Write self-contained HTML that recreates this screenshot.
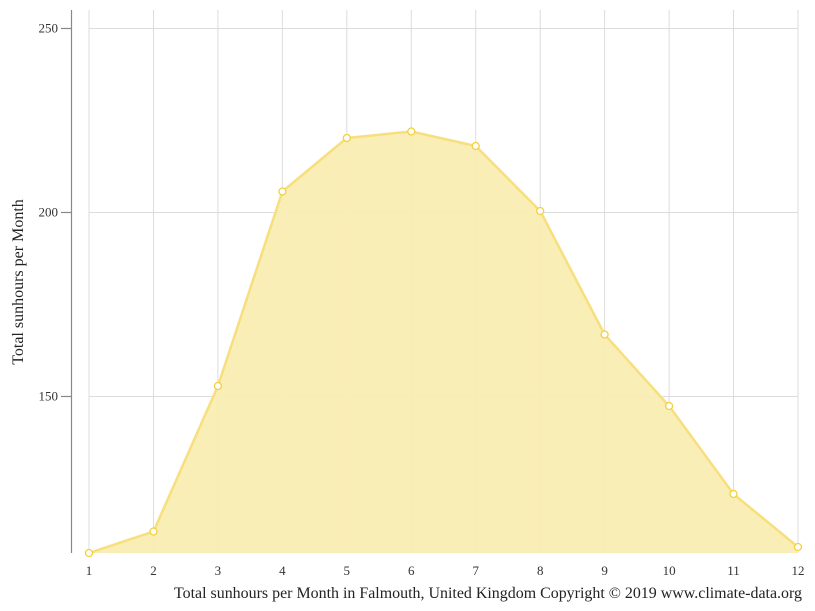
<!DOCTYPE html>
<html><head><meta charset="utf-8"><style>
html,body{margin:0;padding:0;background:#fff;}
svg{display:block;font-family:"Liberation Serif",serif;}
</style></head><body>
<svg width="815" height="611" viewBox="0 0 815 611" xmlns="http://www.w3.org/2000/svg">
<g stroke="#dcdcdc" stroke-width="1">
<line x1="89" y1="10" x2="89" y2="553"/>
<line x1="153.5" y1="10" x2="153.5" y2="553"/>
<line x1="217.9" y1="10" x2="217.9" y2="553"/>
<line x1="282.4" y1="10" x2="282.4" y2="553"/>
<line x1="346.8" y1="10" x2="346.8" y2="553"/>
<line x1="411.3" y1="10" x2="411.3" y2="553"/>
<line x1="475.7" y1="10" x2="475.7" y2="553"/>
<line x1="540.2" y1="10" x2="540.2" y2="553"/>
<line x1="604.6" y1="10" x2="604.6" y2="553"/>
<line x1="669.1" y1="10" x2="669.1" y2="553"/>
<line x1="733.5" y1="10" x2="733.5" y2="553"/>
<line x1="798" y1="10" x2="798" y2="553"/>
<line x1="89" y1="28.5" x2="798" y2="28.5"/>
<line x1="89" y1="212.5" x2="798" y2="212.5"/>
<line x1="89" y1="396.5" x2="798" y2="396.5"/>
</g>
<polygon fill="#f9edb0" fill-opacity="0.92" points="89,553 153.5,531.5 217.9,386 282.4,191.5 346.8,138 411.3,131.5 475.7,146 540.2,211 604.6,334.5 669.1,406 733.5,494 798,547 798,553"/>
<polyline fill="none" stroke="#f7df7e" stroke-width="2.5" stroke-linejoin="round" points="89,553 153.5,531.5 217.9,386 282.4,191.5 346.8,138 411.3,131.5 475.7,146 540.2,211 604.6,334.5 669.1,406 733.5,494 798,547"/>
<g fill="#fff" stroke="#f5cf3c" stroke-width="1.3">
<circle cx="89" cy="553" r="3.5"/>
<circle cx="153.5" cy="531.5" r="3.5"/>
<circle cx="217.9" cy="386" r="3.5"/>
<circle cx="282.4" cy="191.5" r="3.5"/>
<circle cx="346.8" cy="138" r="3.5"/>
<circle cx="411.3" cy="131.5" r="3.5"/>
<circle cx="475.7" cy="146" r="3.5"/>
<circle cx="540.2" cy="211" r="3.5"/>
<circle cx="604.6" cy="334.5" r="3.5"/>
<circle cx="669.1" cy="406" r="3.5"/>
<circle cx="733.5" cy="494" r="3.5"/>
<circle cx="798" cy="547" r="3.5"/>
</g>
<g stroke="#888" stroke-width="1.2">
<line x1="71.5" y1="10" x2="71.5" y2="553"/>
<line x1="61" y1="28.5" x2="71" y2="28.5"/>
<line x1="61" y1="212.5" x2="71" y2="212.5"/>
<line x1="61" y1="396.5" x2="71" y2="396.5"/>
</g>
<g fill="#333" font-size="13" text-anchor="end">
<text x="58" y="32.5">250</text>
<text x="58" y="216.5">200</text>
<text x="58" y="400.5">150</text>
</g>
<g fill="#333" font-size="13" text-anchor="middle">
<text x="89" y="575">1</text>
<text x="153.5" y="575">2</text>
<text x="217.9" y="575">3</text>
<text x="282.4" y="575">4</text>
<text x="346.8" y="575">5</text>
<text x="411.3" y="575">6</text>
<text x="475.7" y="575">7</text>
<text x="540.2" y="575">8</text>
<text x="604.6" y="575">9</text>
<text x="669.1" y="575">10</text>
<text x="733.5" y="575">11</text>
<text x="798" y="575">12</text>
</g>
<text x="23" y="282" fill="#222" font-size="16" text-anchor="middle" transform="rotate(-90 23 282)">Total sunhours per Month</text>
<text x="174" y="598" fill="#222" font-size="16" textLength="628" lengthAdjust="spacingAndGlyphs">Total sunhours per Month in Falmouth, United Kingdom Copyright © 2019 www.climate-data.org</text>
</svg>
</body></html>
